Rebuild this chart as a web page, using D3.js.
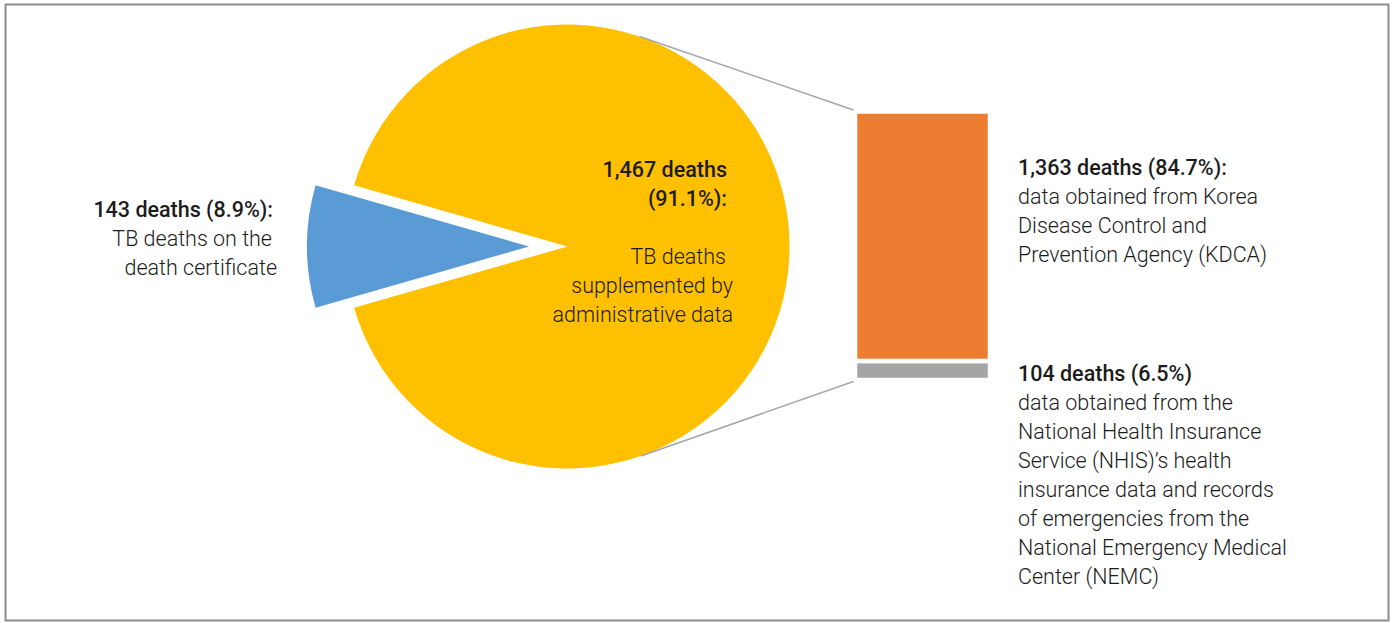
<!DOCTYPE html>
<html>
<head>
<meta charset="utf-8">
<script src="https://cdn.jsdelivr.net/npm/d3@7"></script>
<style>
  html, body { margin: 0; padding: 0; background: #fff; }
  svg { display: block; }
  text { font-family: Roboto, "Liberation Sans", sans-serif; fill: #1c1c1c; }
  .bold { font-weight: 500; }
  .body { font-weight: 300; }
</style>
</head>
<body>
<svg id="chart" width="1393" height="623"></svg>
<script>
// Pie: TB deaths by source of identification
const pieCategories = ["TB deaths on the death certificate", "TB deaths supplemented by administrative data"];
const pieValues = [143, 1467];
const pieColors = ["#5B9BD5", "#FFC000"];

// Bar: breakdown of the supplemented deaths
const barCategories = ["KDCA", "NHIS / NEMC"];
const barValues = [1363, 104];
const barColors = ["#ED7D31", "#A5A5A5"];

// Label texts
const pieLabelLeft = { title: "143 deaths (8.9%):", lines: ["TB deaths on the", "death certificate"] };
const pieLabelMain = { title: ["1,467 deaths", "(91.1%):"], lines: ["TB deaths", "supplemented by", "administrative data"] };
const barLabelTop = { title: "1,363 deaths (84.7%):", lines: ["data obtained from Korea", "Disease Control and", "Prevention Agency (KDCA)"] };
const barLabelBottom = { title: "104 deaths (6.5%)", lines: ["data obtained from the", "National Health Insurance", "Service (NHIS)\u2019s health", "insurance data and records", "of emergencies from the", "National Emergency Medical", "Center (NEMC)"] };

const svg = d3.select("#chart");
const W = 1393, H = 623;

// outer frame
svg.append("rect")
  .attr("x", 5.5).attr("y", 4.5)
  .attr("width", 1383).attr("height", 616)
  .attr("fill", "none").attr("stroke", "#8c8c8c").attr("stroke-width", 2);

// ---- pie ----
const cx = 567.5, cy = 246.5, R = 222, explode = 38.5;
const total = d3.sum(pieValues);
const half = Math.PI * pieValues[0] / total;
const pie = d3.pie().sort(null)
  .startAngle(1.5 * Math.PI - half)
  .endAngle(3.5 * Math.PI - half);
const arcs = pie(pieValues);
const arc = d3.arc().innerRadius(0).outerRadius(R);

const gPie = svg.append("g").attr("transform", `translate(${cx},${cy})`);
gPie.selectAll("path").data(arcs).join("path")
  .attr("d", arc)
  .attr("fill", (d, i) => pieColors[i])
  .attr("transform", (d, i) => {
    if (i !== 0) return null;
    const a = (d.startAngle + d.endAngle) / 2;
    return `translate(${explode * Math.sin(a)},${-explode * Math.cos(a)})`;
  });

// ---- stacked bar ----
const barX = 855, barW = 135;
const y = d3.scaleLinear().domain([0, d3.sum(barValues)]).range([380, 111.5]);
const stackRows = [];
let acc = 0;
for (let i = barValues.length - 1; i >= 0; i--) {
  stackRows.push({ i, y0: acc, y1: acc + barValues[i] });
  acc += barValues[i];
}
svg.append("g").selectAll("rect").data(stackRows).join("rect")
  .attr("x", barX).attr("width", barW)
  .attr("y", d => y(d.y1))
  .attr("height", d => y(d.y0) - y(d.y1))
  .attr("fill", d => barColors[d.i])
  .attr("stroke", "#fff").attr("stroke-width", 4.5);

// connector lines: tangents from the bar's left corners to the pie
function tangentPoint(px, py, upper) {
  const dx = px - cx, dy = py - cy;
  const D = Math.hypot(dx, dy);
  const th = Math.atan2(dy, dx);
  const al = Math.acos(R / D);
  const t = upper ? th - al : th + al;
  return [cx + R * Math.cos(t), cy + R * Math.sin(t)];
}
const corners = [[barX - 1.5, y(d3.sum(barValues)) - 1.5, true], [barX - 1.5, y(0) + 1.5, false]];
svg.append("g").selectAll("line").data(corners).join("line")
  .each(function (c) {
    const t = tangentPoint(c[0], c[1], c[2]);
    d3.select(this)
      .attr("x1", t[0]).attr("y1", t[1])
      .attr("x2", c[0]).attr("y2", c[1]);
  })
  .attr("stroke", "#a6a6a6").attr("stroke-width", 1.5);

// ---- labels ----
const FS = 21.5, LH = 29;
function block(x, y0, anchor, titleLines, bodyLines, gapLines, offsets) {
  const g = svg.append("g");
  let k = 0;
  titleLines.forEach(t => {
    g.append("text").attr("class", "bold")
      .attr("x", x + ((offsets && offsets[k]) || 0)).attr("y", y0 + k * LH)
      .attr("text-anchor", anchor).attr("font-size", FS).text(t);
    k++;
  });
  k += gapLines;
  bodyLines.forEach(t => {
    g.append("text").attr("class", "body")
      .attr("x", x + ((offsets && offsets[k - gapLines]) || 0)).attr("y", y0 + k * LH)
      .attr("text-anchor", anchor).attr("font-size", FS).text(t);
    k++;
  });
}
block(273, 217, "end", [pieLabelLeft.title], pieLabelLeft.lines, 0, [0, -1, 4]);
block(727, 177, "end", pieLabelMain.title, pieLabelMain.lines, 1, [0, 0, -1, 6, 6]);
block(1018, 175, "start", [barLabelTop.title], barLabelTop.lines, 0);
block(1018, 381, "start", [barLabelBottom.title], barLabelBottom.lines, 0);
</script>
</body>
</html>
